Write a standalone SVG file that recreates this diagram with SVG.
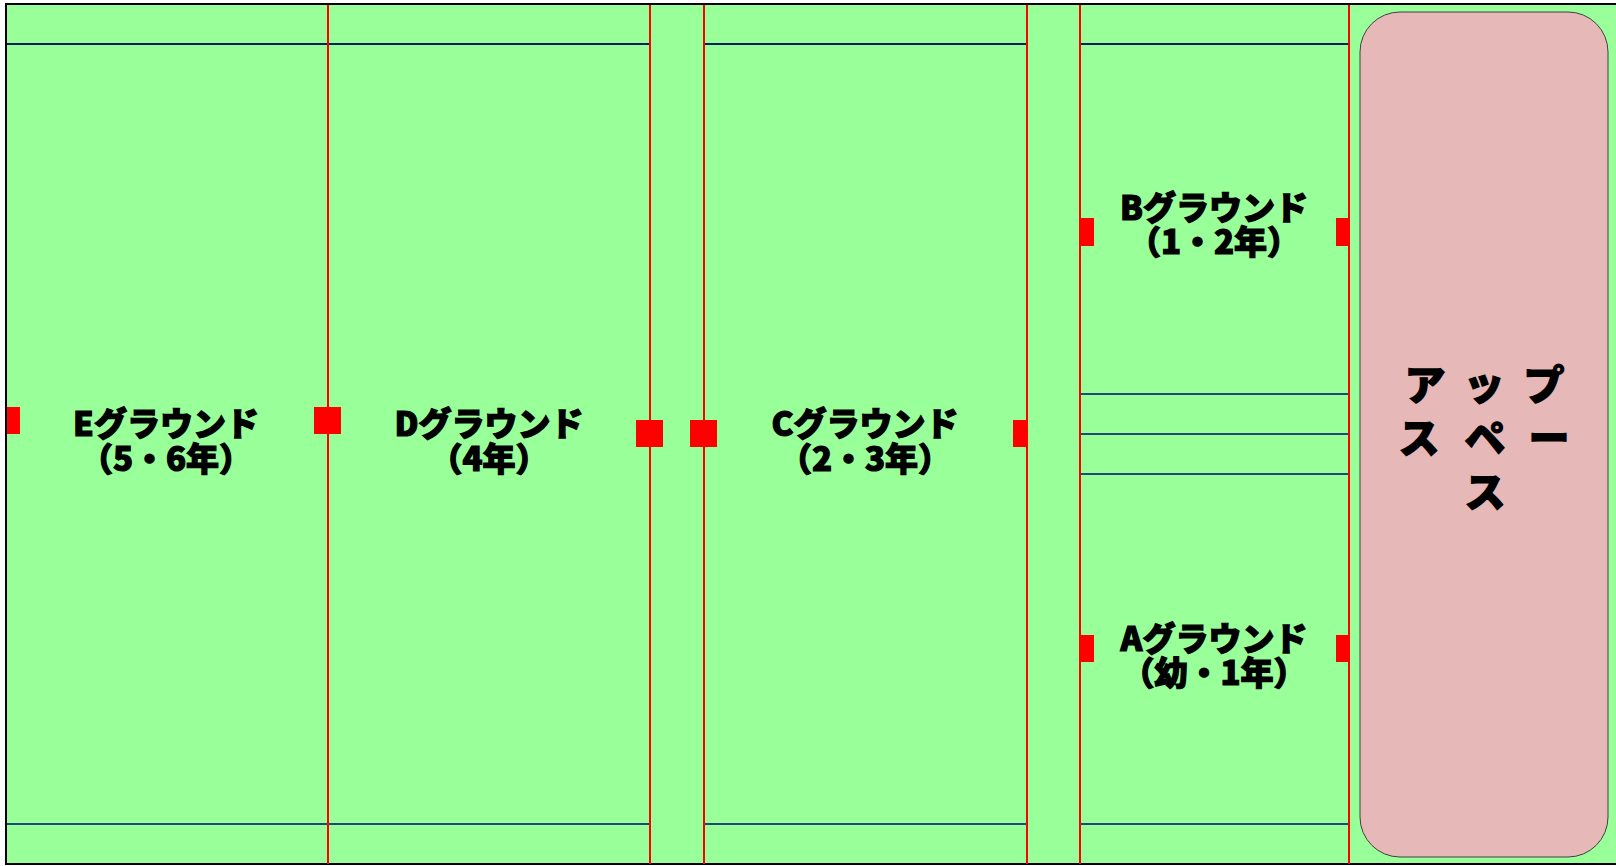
<svg xmlns="http://www.w3.org/2000/svg" width="1616" height="866" viewBox="0 0 1616 866">
<style>
.h{stroke:#1f497d;stroke-width:2;fill:none}
.n{stroke:#002060;stroke-width:2;fill:none}
.v{stroke:#ff0000;stroke-width:2;fill:none}
.m{fill:#ff0000}
.t{font-family:"Noto Sans CJK JP","Noto Sans",sans-serif;font-weight:900;font-size:33px;fill:#000;stroke:#000;stroke-width:1.2px;text-anchor:middle}
.s{font-size:41px;text-anchor:middle}
</style>
<rect width="1616" height="866" fill="#ffffff"/>
<rect x="6" y="4" width="1612" height="860" fill="#99ff99" stroke="#000" stroke-width="2"/>
<g id="connectors">
<path class="n" d="M7 44H650M704 44H1027M1080 44H1349"/>
<path class="h" d="M7 824H650M704 824H1027M1080 824H1349M1080 394H1349M1080 434H1349M1080 474H1349"/>
<path class="v" d="M328 5V864M650 5V864M704 5V864M1027 5V864M1080 5V864M1349 5V864"/>
</g>
<g id="ground-e"><rect class="m" x="7" y="407" width="13" height="27"/><text class="t"><tspan x="166" y="436">Eグラウンド</tspan><tspan x="166" y="471">（5・6年）</tspan></text></g>
<g id="ground-d"><rect class="m" x="314" y="407" width="27" height="27"/><text class="t"><tspan x="489" y="436">Dグラウンド</tspan><tspan x="489" y="471">（4年）</tspan></text></g>
<g id="ground-c"><rect class="m" x="636" y="420" width="27" height="27"/><rect class="m" x="690" y="420" width="27" height="27"/><rect class="m" x="1013" y="420" width="14" height="27"/><text class="t"><tspan x="865" y="436">Cグラウンド</tspan><tspan x="865" y="471">（2・3年）</tspan></text></g>
<g id="ground-b"><rect class="m" x="1080" y="218" width="14" height="28"/><rect class="m" x="1336" y="218" width="13" height="28"/><text class="t"><tspan x="1214" y="220">Bグラウンド</tspan><tspan x="1214" y="254">（1・2年）</tspan></text></g>
<g id="ground-a"><rect class="m" x="1080" y="635" width="14" height="27"/><rect class="m" x="1336" y="635" width="13" height="27"/><text class="t"><tspan x="1214" y="651">Aグラウンド</tspan><tspan x="1214" y="685">（幼・1年）</tspan></text></g>
<g id="up-space"><rect x="1360" y="12" width="248" height="845" rx="40" ry="40" fill="#e6b8b7" stroke="#404040" stroke-width="1"/>
<text class="t s"><tspan x="1425 1484 1544" y="400">アップ</tspan><tspan x="1419 1485 1549" y="453">スペー</tspan><tspan x="1485" y="507">ス</tspan></text></g>
</svg>
